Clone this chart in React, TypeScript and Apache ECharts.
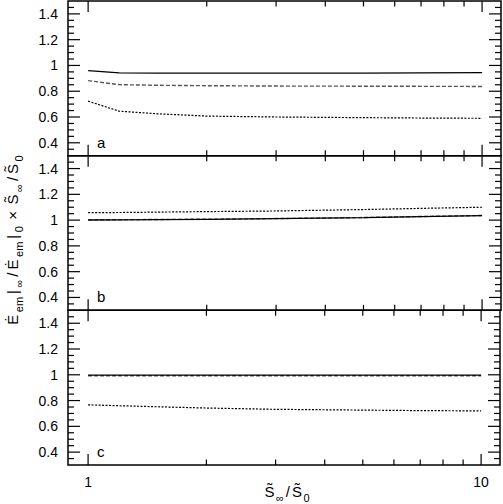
import React, { useEffect, useRef } from "react";
import * as echarts from "echarts";

// ---- data ----
const xValues = [1, 1.2, 1.5, 2, 3, 5, 7, 10];

const aSolid = [0.96, 0.942, 0.941, 0.94, 0.94, 0.941, 0.942, 0.944];
const aDashed = [0.882, 0.851, 0.846, 0.843, 0.84, 0.839, 0.838, 0.837];
const aDotted = [0.723, 0.645, 0.625, 0.607, 0.6, 0.595, 0.592, 0.59];

const bSolid = [1.001, 1.002, 1.004, 1.006, 1.011, 1.019, 1.027, 1.035];
const bDashed = [1.002, 1.003, 1.005, 1.007, 1.012, 1.02, 1.028, 1.036];
const bDotted = [1.058, 1.059, 1.062, 1.066, 1.071, 1.082, 1.091, 1.1];

const cSolid = [0.997, 0.997, 0.997, 0.997, 0.997, 0.997, 0.997, 0.997];
const cDashed = [0.992, 0.992, 0.992, 0.992, 0.992, 0.992, 0.992, 0.992];
const cDotted = [0.767, 0.76, 0.752, 0.742, 0.732, 0.726, 0.722, 0.72];

const panelNames = ["a", "b", "c"];
const xTickLabels = [1, 10];
const yTickLabels = [0.4, 0.6, 0.8, 1, 1.2, 1.4];
const xTickValues = [1, 2, 3, 4, 5, 6, 7, 8, 9, 10];
const yTickValues = [
  0.35, 0.4, 0.45, 0.5, 0.55, 0.6, 0.65, 0.7, 0.75, 0.8, 0.85, 0.9, 0.95, 1,
  1.05, 1.1, 1.15, 1.2, 1.25, 1.3, 1.35, 1.4, 1.45,
];

const X_MIN = 0.889;
const X_MAX = 11.17;
const Y_MIN = 0.3;
const Y_MAX = 1.5;

const FONT = "'Liberation Sans', Arial, Helvetica, sans-serif";

export default function App() {
  const ref = useRef<HTMLDivElement>(null);

  useEffect(() => {
    if (!ref.current) return;
    const chart = echarts.init(ref.current, undefined, { renderer: "svg" });

    const H = 154.67;
    const tops = [1, 1 + H, 1 + 2 * H];
    const panels = [
      [aSolid, aDashed, aDotted],
      [bSolid, bDashed, bDotted],
      [cSolid, cDashed, cDotted],
    ];

    const grids = tops.map((t) => ({
      left: 68,
      right: 2,
      top: t,
      height: H,
      show: true,
      borderColor: "#000",
      borderWidth: 1.5,
      backgroundColor: "transparent",
    }));

    const xAxes = tops.map((_, i) => ({
      type: "log",
      logBase: 10,
      gridIndex: i,
      min: X_MIN,
      max: X_MAX,
      axisLine: { show: false },
      axisTick: { show: false },
      splitLine: { show: false },
      axisLabel: {
        show: i === 2,
        margin: 10,
        color: "#000",
        fontSize: 14,
        fontFamily: FONT,
        formatter: (v: number) => {
          const t = xTickLabels.find((u) => Math.abs(u - v) < 1e-6 * u);
          return t === undefined ? "" : String(t);
        },
      },
    }));

    const yAxes = tops.map((_, i) => ({
      type: "value",
      gridIndex: i,
      min: Y_MIN,
      max: Y_MAX,
      axisLine: { show: false },
      axisTick: { show: false },
      splitLine: { show: false },
      axisLabel: {
        margin: 10,
        color: "#000",
        fontSize: 14,
        fontFamily: FONT,
        formatter: (v: number) => {
          const t = yTickLabels.find((u) => Math.abs(u - v) < 1e-6);
          return t === undefined ? "" : String(t);
        },
      },
    }));

    const styles = [
      { color: "#000", width: 1.3, type: "solid" },
      { color: "#555", width: 1.4, type: [4, 2] },
      { color: "#000", width: 1.2, type: [2, 1.5] },
    ];

    const series: any[] = [];
    panels.forEach((lines, i) => {
      lines.forEach((arr, k) => {
        series.push({
          type: "line",
          xAxisIndex: i,
          yAxisIndex: i,
          data: xValues.map((x, j) => [x, arr[j]]),
          symbol: "none",
          showSymbol: false,
          silent: true,
          lineStyle: styles[k],
          z: k === 1 ? 2 : 3,
        });
      });
      series.push({
        type: "custom",
        xAxisIndex: i,
        yAxisIndex: i,
        silent: true,
        data: [[1, 1]],
        z: 5,
        renderItem: (_p: any, api: any) => {
          const children: any[] = [];
          const st = { stroke: "#000", lineWidth: 1.2 };
          xTickValues.forEach((x) => {
            const len = xTickLabels.includes(x) ? 11 : 5.5;
            const pt = api.coord([x, Y_MAX]);
            const pb = api.coord([x, Y_MIN]);
            children.push({
              type: "line",
              shape: { x1: pt[0], y1: pt[1], x2: pt[0], y2: pt[1] + len },
              style: st,
            });
            children.push({
              type: "line",
              shape: { x1: pb[0], y1: pb[1], x2: pb[0], y2: pb[1] - len },
              style: st,
            });
          });
          yTickValues.forEach((y) => {
            const major = yTickLabels.some((u) => Math.abs(u - y) < 1e-6);
            const len = major ? 12 : 6;
            const pl = api.coord([X_MIN, y]);
            const pr = api.coord([X_MAX, y]);
            children.push({
              type: "line",
              shape: { x1: pl[0], y1: pl[1], x2: pl[0] + len, y2: pl[1] },
              style: st,
            });
            children.push({
              type: "line",
              shape: { x1: pr[0], y1: pr[1], x2: pr[0] - len, y2: pr[1] },
              style: st,
            });
          });
          return { type: "group", children };
        },
      });
    });

    const richY = {
      m: { fontSize: 15, fontFamily: FONT, lineHeight: 17, padding: [0, 1.5, 0, 1.5], verticalAlign: "top", color: "#000" },
      x: { fontSize: 15, fontFamily: FONT, lineHeight: 17, padding: [0, 5, 0, 5], verticalAlign: "top", color: "#000" },
      s: { fontSize: 11, fontFamily: FONT, lineHeight: 12, padding: [9, 1.5, 0, 1], verticalAlign: "top", color: "#000" },
    };
    const richX = {
      m: { fontSize: 15, fontFamily: FONT, lineHeight: 17, padding: [0, 1, 0, 1], verticalAlign: "top", color: "#000" },
      s: { fontSize: 11, fontFamily: FONT, lineHeight: 12, padding: [9, 1, 0, 0.5], verticalAlign: "top", color: "#000" },
    };

    const graphic: any[] = [];
    tops.forEach((t, i) => {
      graphic.push({
        type: "text",
        x: 97,
        y: t + H - 6,
        style: {
          text: panelNames[i],
          fontSize: 15,
          fontFamily: FONT,
          fill: "#000",
          align: "left",
          verticalAlign: "bottom",
        },
      });
    });
    graphic.push({
      type: "text",
      x: 13,
      y: 240,
      rotation: Math.PI / 2,
      style: {
        text: "{m|Ė}{s|em}{m||}{s|∞}{m|/}{m|Ė}{s|em}{m||}{s|0}{x|×}{m|S\u0303}{s|∞}{m|/}{m|S\u0303}{s|0}",
        rich: richY,
        align: "center",
        verticalAlign: "middle",
        fill: "#000",
      },
    });
    graphic.push({
      type: "text",
      x: 287,
      y: 492,
      style: {
        text: "{m|S\u0303}{s|∞}{m|/}{m|S\u0303}{s|0}",
        rich: richX,
        align: "center",
        verticalAlign: "middle",
        fill: "#000",
      },
    });

    chart.setOption({
      animation: false,
      backgroundColor: "#fff",
      grid: grids,
      xAxis: xAxes,
      yAxis: yAxes,
      series,
      graphic,
    });

    return () => chart.dispose();
  }, []);

  return (
    <div
      ref={ref}
      style={{ position: "fixed", left: 0, top: 0, width: 503, height: 504 }}
    />
  );
}
